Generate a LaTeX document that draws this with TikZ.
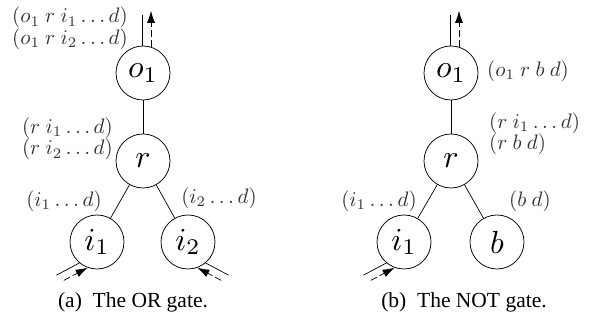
\documentclass[tikz,border=0pt]{standalone}
\usepackage[no-math]{fontspec}
\setmainfont{Liberation Serif}
\usetikzlibrary{calc,arrows.meta}
% enlarged math for gate names and for path tags
\newcommand\gname[1]{\scalebox{3.2}{$#1$}}
\newcommand\ptag[1]{\scalebox{2.1}{$#1$}}
\begin{document}
\begin{tikzpicture}[x=1pt,y=1pt,
  gate/.style={circle,draw,line width=0.75pt,minimum size=54pt,inner sep=0pt},
  tag/.style={text=black!80,inner sep=0pt,font=\fontsize{10}{21.5}\selectfont},
  wire/.style={line width=0.7pt},
  flow/.style={line width=0.7pt,dash pattern=on 7pt off 3pt,
    -{Latex[length=12pt,width=8pt]}},
  figcap/.style={font=\fontsize{21.5}{24}\selectfont}]
\useasboundingbox (0,0) rectangle (598,323);

% ---- OR gate ----
\node[gate] (ao) at (143,250) {\gname{o_1}};
\node[gate] (ar) at (143,162) {\gname{r}};
\node[gate] (ai) at (97,81) {\gname{i_1}};
\node[gate] (aj) at (188,81) {\gname{i_2}};
\draw[wire] (ao) -- (ar);
\draw[wire] (ar) -- (ai);
\draw[wire] (ar) -- (aj);
% output
\coordinate (aoutl) at ($(ao.92)+(0,31)$);
\coordinate (aoutr) at ($(ao.73)+(0,36)$);
\draw[wire] (ao.92) -- (aoutl);
\draw[flow] (ao.73) -- (aoutr);
% inputs
\coordinate (ainl) at ($(ai.230)+(208:26)$);
\coordinate (ainr) at ($(ai.250)+(208:27)$);
\draw[wire] (ai.230) -- (ainl);
\draw[flow] (ainr) -- (ai.250);
\coordinate (ajnl) at ($(aj.310)+(-28:26)$);
\coordinate (ajnr) at ($(aj.290)+(-28:27)$);
\draw[wire] (aj.310) -- (ajnl);
\draw[flow] (ajnr) -- (aj.290);
% tags
\node[tag,anchor=east,align=right] (at1) at (128,294.5)
  {\ptag{(o_1\ r\ i_1\ldots d)}\\\ptag{(o_1\ r\ i_2\ldots d)}};
\node[tag,anchor=east,align=right] (at2) at (113,184)
  {\ptag{(r\ i_1\ldots d)}\\\ptag{(r\ i_2\ldots d)}};
\node[tag] (at3) at (64,122) {\ptag{(i_1\ldots d)}};
\node[tag] (at4) at (219,124.5) {\ptag{(i_2\ldots d)}};
\node[figcap] (acap) at (133,21) {(a)\ \ The OR gate.};

% ---- NOT gate ----
\node[gate] (bo) at (451,250) {\gname{o_1}};
\node[gate] (br) at (451,162) {\gname{r}};
\node[gate] (bi) at (404,81) {\gname{i_1}};
\node[gate] (bb) at (497,81) {\gname{b}};
\draw[wire] (bo) -- (br);
\draw[wire] (br) -- (bi);
\draw[wire] (br) -- (bb);
\coordinate (boutl) at ($(bo.92)+(0,31)$);
\coordinate (boutr) at ($(bo.73)+(0,36)$);
\draw[wire] (bo.92) -- (boutl);
\draw[flow] (bo.73) -- (boutr);
\coordinate (binl) at ($(bi.230)+(208:26)$);
\coordinate (binr) at ($(bi.250)+(208:27)$);
\draw[wire] (bi.230) -- (binl);
\draw[flow] (binr) -- (bi.250);
\node[tag,anchor=west] (bt1) at (487,252) {\ptag{(o_1\ r\ b\ d)}};
\node[tag,anchor=west,align=left] (bt2) at (489,189)
  {\ptag{(r\ i_1\ldots d)}\\\ptag{(r\ b\ d)}};
\node[tag] (bt3) at (379,122) {\ptag{(i_1\ldots d)}};
\node[tag] (bt4) at (530,122) {\ptag{(b\ d)}};
\node[figcap] (bcap) at (464,21) {(b)\ \ The NOT gate.};
\end{tikzpicture}
\end{document}
